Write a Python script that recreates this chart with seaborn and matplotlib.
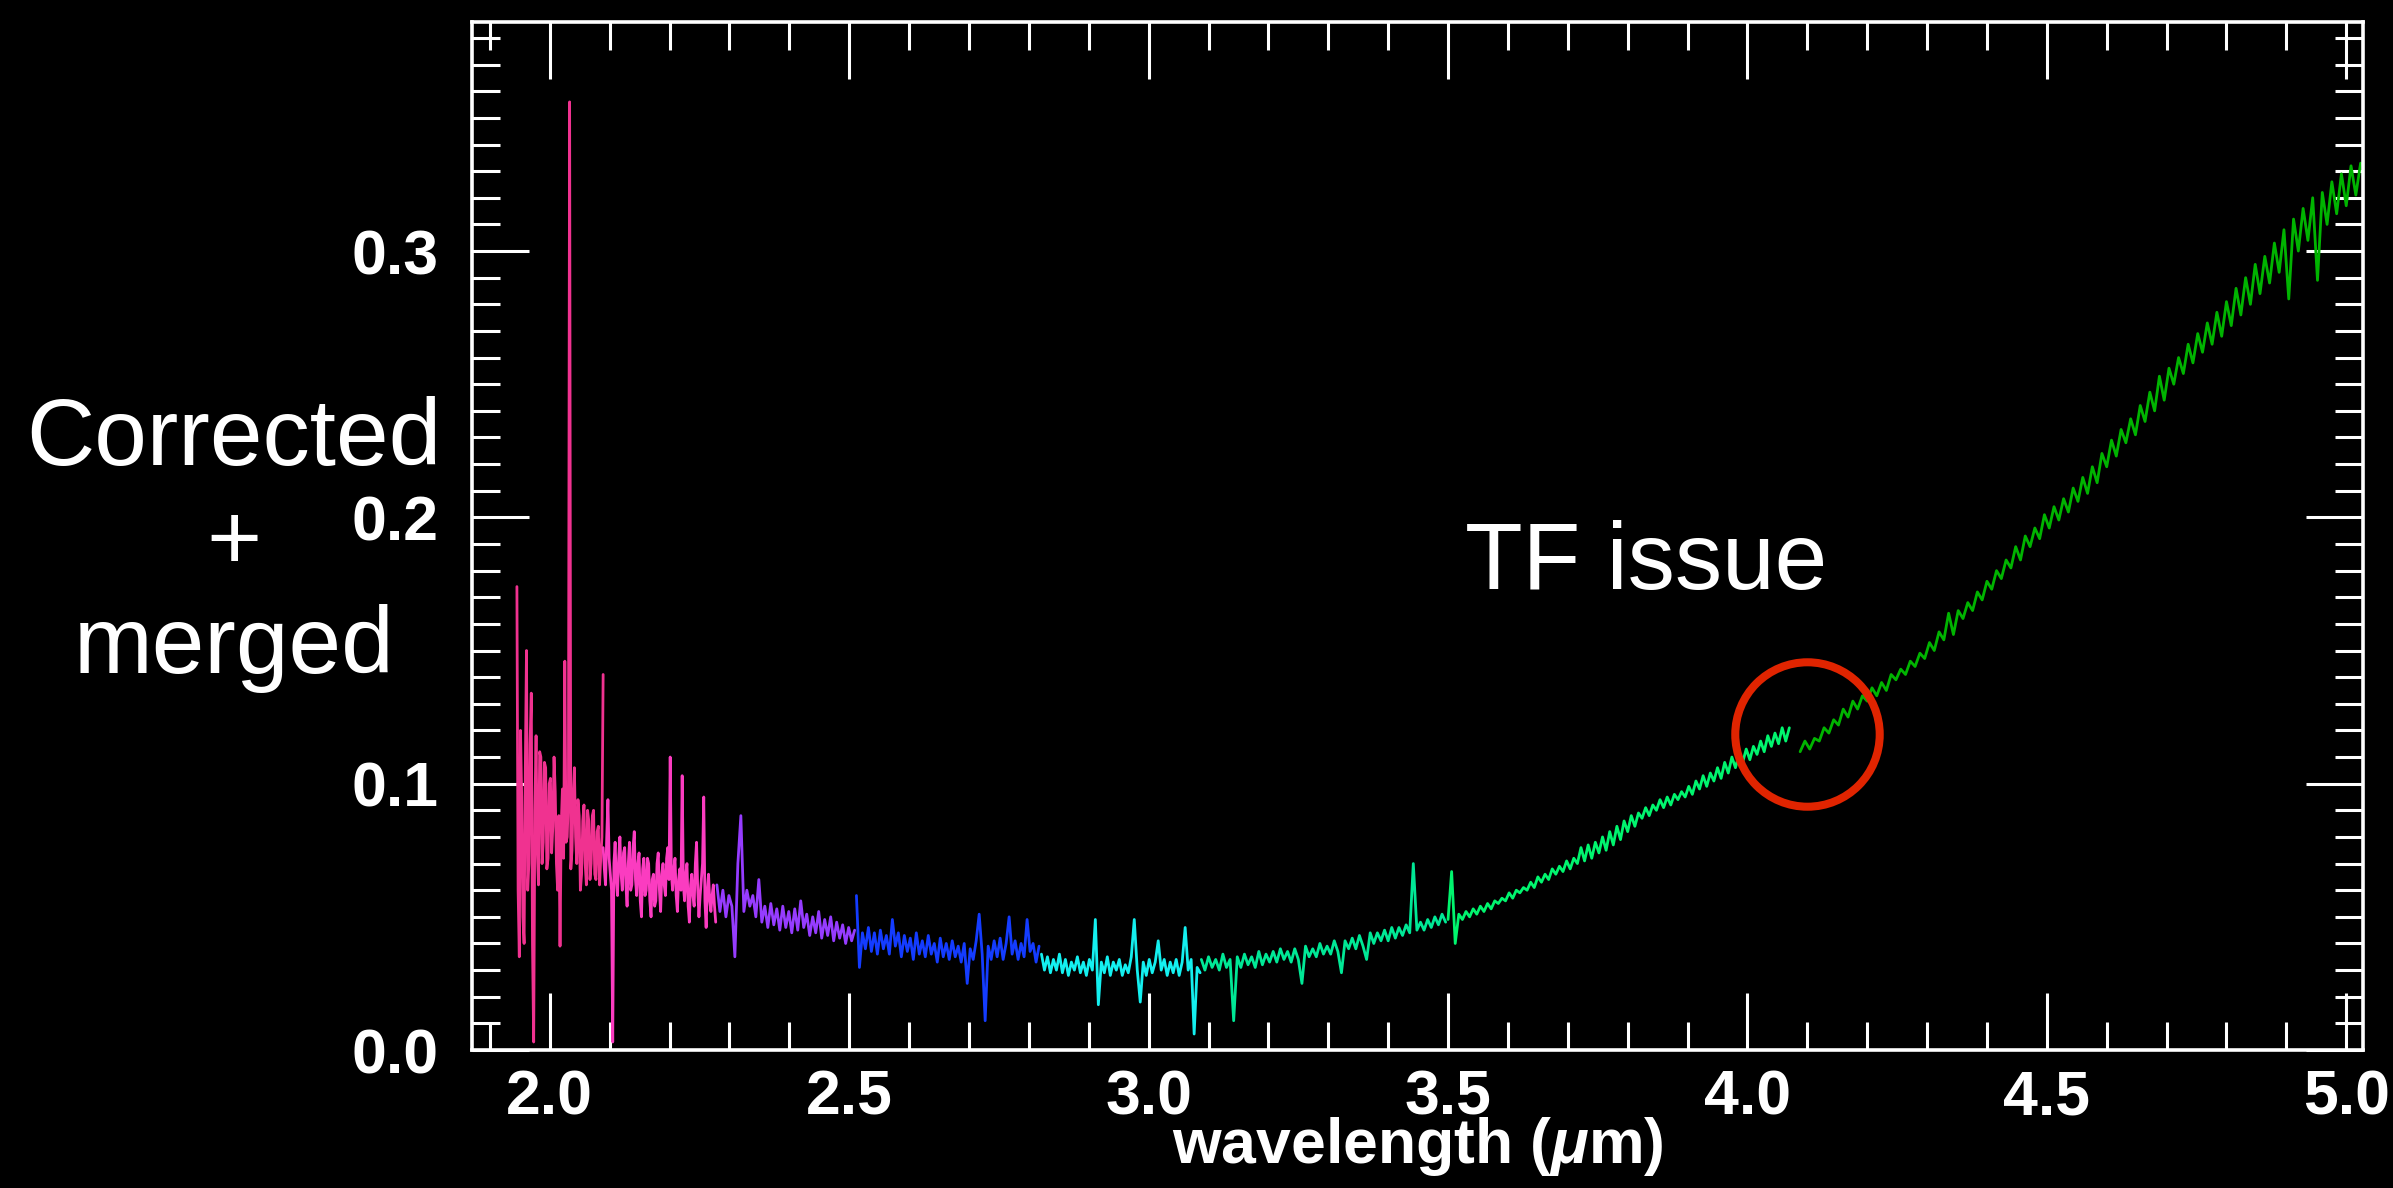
import numpy as np
import pandas as pd
import matplotlib
matplotlib.use("Agg")
import matplotlib.pyplot as plt
from matplotlib.ticker import MultipleLocator
import seaborn as sns

# ---------------- data (flux in units of 1e-3) ----------------
seg_names = ["s1", "s2", "s3", "s4", "s5", "s6", "s7", "s8"]
seg_colors = ["#f03290", "#fb3cc0", "#963cff", "#143cff",
              "#14f0f0", "#00e896", "#00f56e", "#00b400"]
seg_start = [1.945, 2.089, 2.279, 2.512, 2.821, 3.088, 3.500, 4.088]
seg_end = [2.089, 2.277, 2.509, 2.817, 3.086, 3.496, 4.070, 5.024]

flux_s1 = [174, 60, 35, 120, 95, 50, 40, 105, 150, 60, 70, 115, 134, 40, 3, 90,
           118, 75, 62, 112, 110, 70, 78, 108, 106, 68, 72, 100, 102, 74, 84, 110,
           97, 70, 60, 88, 39, 84, 98, 72, 146, 78, 80, 95, 356, 68, 75, 96,
           106, 80, 70, 94, 88, 60, 66, 86, 92, 70, 62, 90, 86, 64, 70, 88,
           90, 66, 64, 82, 84, 62, 72, 80, 141]
flux_s2 = [76, 68, 62, 80, 94, 72, 66, 60, 3, 70, 78, 64, 58, 72, 80, 66,
           60, 74, 76, 62, 54, 70, 78, 60, 62, 76, 82, 64, 58, 70, 74, 56,
           50, 68, 72, 58, 60, 72, 70, 56, 50, 64, 66, 54, 56, 70, 74, 60,
           52, 66, 70, 62, 58, 72, 76, 64, 110, 66, 60, 68, 72, 58, 52, 64,
           68, 60, 103, 62, 56, 66, 70, 54, 48, 62, 66, 58, 54, 70, 78, 60,
           50, 58, 64, 70, 95, 56, 46, 60, 66, 56, 52, 58, 62, 54, 48]
flux_s3 = [62, 52, 60, 50, 58, 54, 35, 70, 88, 52, 60, 54, 58, 50, 64, 48,
           54, 46, 55, 47, 53, 45, 54, 46, 52, 44, 53, 45, 56, 46, 51, 43,
           50, 44, 52, 42, 49, 43, 50, 41, 48, 42, 47, 40, 46, 41, 45]
flux_s4 = [58, 31, 44, 38, 46, 37, 44, 36, 45, 38, 43, 36, 49, 39, 44, 35,
           43, 37, 42, 34, 44, 36, 41, 35, 43, 36, 40, 33, 42, 35, 40, 34,
           41, 35, 39, 33, 40, 25, 38, 34, 41, 51, 36, 11, 39, 34, 41, 35,
           42, 34, 40, 50, 36, 41, 34, 40, 35, 49, 37, 40, 33, 39]
flux_s5 = [36, 30, 35, 29, 34, 30, 36, 29, 34, 28, 33, 30, 35, 29, 33, 28,
           34, 30, 49, 17, 33, 29, 35, 28, 33, 30, 34, 28, 32, 29, 35, 49,
           30, 18, 33, 28, 34, 29, 33, 41, 30, 34, 28, 33, 29, 34, 28, 33,
           46, 30, 34, 6, 31, 29]
flux_s6 = [34, 30, 35, 31, 34, 30, 36, 31, 34, 11, 35, 31, 36, 32, 35, 31,
           37, 32, 36, 33, 37, 33, 38, 34, 37, 33, 38, 34, 25, 39, 35, 38,
           35, 40, 36, 39, 36, 41, 37, 29, 41, 38, 42, 38, 43, 39, 34, 44,
           40, 44, 41, 45, 41, 46, 42, 46, 43, 47, 44, 70, 45, 48, 45, 49,
           46, 50, 47, 51, 48]
flux_s7 = [49, 67, 40, 51, 49, 52, 50, 53, 51, 54, 52, 55, 53, 56, 55, 57,
           56, 59, 57, 60, 59, 61, 60, 63, 61, 65, 63, 66, 64, 68, 66, 69,
           67, 71, 68, 72, 70, 76, 71, 77, 72, 78, 74, 80, 75, 82, 77, 84,
           79, 86, 82, 88, 84, 89, 87, 91, 88, 92, 90, 94, 91, 95, 92, 96,
           94, 97, 95, 99, 96, 101, 98, 103, 99, 104, 101, 106, 102, 108, 104, 110,
           106, 111, 108, 113, 109, 114, 111, 116, 112, 118, 114, 119, 115, 121, 116, 121]
flux_s8 = [112, 116, 113, 117, 116, 121, 119, 124, 122, 128, 125, 131, 128, 133, 131, 136,
           133, 138, 135, 141, 139, 143, 141, 146, 144, 149, 147, 153, 150, 157, 154, 164,
           156, 165, 162, 168, 165, 172, 169, 176, 173, 180, 177, 184, 181, 189, 184, 193,
           189, 196, 192, 201, 196, 204, 199, 207, 202, 211, 206, 215, 209, 219, 213, 224,
           219, 229, 223, 233, 228, 237, 231, 242, 236, 247, 240, 253, 244, 256, 250, 260,
           254, 265, 258, 269, 262, 273, 265, 277, 268, 281, 272, 286, 276, 290, 280, 295,
           284, 298, 288, 303, 292, 308, 282, 312, 300, 316, 304, 320, 289, 322, 310, 326,
           314, 329, 317, 332, 321, 333]
seg_flux = [flux_s1, flux_s2, flux_s3, flux_s4, flux_s5, flux_s6, flux_s7, flux_s8]

x_ticks_major = [2.0, 2.5, 3.0, 3.5, 4.0, 4.5, 5.0]
y_ticks_major = [0.0, 0.1, 0.2, 0.3]

circle_center = (4.099, 0.1187)
side_label_lines = ["Corrected", "+", "merged"]
note_text = "TF issue"

# ---------------- build table ----------------
frames = []
for name, a, b, fl in zip(seg_names, seg_start, seg_end, seg_flux):
    frames.append(pd.DataFrame({
        "wavelength": np.linspace(a, b, len(fl)),
        "flux": np.asarray(fl, dtype=float) / 1000.0,
        "segment": name,
    }))
df = pd.concat(frames, ignore_index=True)
palette = dict(zip(seg_names, seg_colors))

# ---------------- style ----------------
sns.set_theme(style="dark")
plt.rcParams.update({
    "figure.facecolor": "black",
    "axes.facecolor": "black",
    "savefig.facecolor": "black",
    "axes.edgecolor": "white",
    "text.color": "white",
    "xtick.color": "white",
    "ytick.color": "white",
    "axes.grid": False,
    "mathtext.fontset": "custom",
    "mathtext.it": "Liberation Sans:italic:bold",
    "mathtext.rm": "Liberation Sans:bold",
    "mathtext.bf": "Liberation Sans:bold",
})
plt.rcParams["font.family"] = ["Liberation Sans", "DejaVu Sans"]

W, H, DPI = 2393, 1188, 100
fig = plt.figure(figsize=(W / DPI, H / DPI), dpi=DPI)
ax = fig.add_axes([472 / W, 1 - 1050 / H, (2363 - 472) / W, (1050 - 22) / H])

sns.lineplot(data=df, x="wavelength", y="flux", hue="segment", palette=palette,
             estimator=None, sort=False, legend=False, linewidth=2.0, ax=ax)

# annotation circle
ax.plot([circle_center[0]], [circle_center[1]], marker="o", markersize=104,
        markerfacecolor="none", markeredgecolor="#e02400", markeredgewidth=5.8,
        linestyle="none", zorder=5)

ax.set_xlim(1.87, 5.028)
ax.set_ylim(0.0, 0.386)
ax.set_xticks(x_ticks_major)
ax.set_yticks(y_ticks_major)
ax.set_xticklabels([f"{v:.1f}" for v in x_ticks_major])
ax.set_yticklabels([f"{v:.1f}" for v in y_ticks_major])
ax.xaxis.set_minor_locator(MultipleLocator(0.1))
ax.yaxis.set_minor_locator(MultipleLocator(0.01))

for s in ax.spines.values():
    s.set_color("white")
    s.set_linewidth(2.6)

ax.tick_params(which="both", direction="in", top=True, right=True,
               bottom=True, left=True, color="white", width=2.2)
ax.tick_params(which="major", length=41)
ax.tick_params(which="minor", length=20)
ax.tick_params(axis="x", which="major", pad=13, labelsize=45)
ax.tick_params(axis="y", which="major", pad=24, labelsize=45)
for lab in ax.get_xticklabels() + ax.get_yticklabels():
    lab.set_fontweight("bold")
    lab.set_color("white")

ax.set_xlabel(r"wavelength ($\mathit{\mu}$m)", fontsize=45, fontweight="bold",
              color="white")
ax.xaxis.set_label_coords(0.5, -0.0628)
ax.set_ylabel("")

# side label (three lines, centered)
base_y = [465, 569, 673]
for txt, by in zip(side_label_lines, base_y):
    fig.text(234 / W, 1 - by / H, txt, fontsize=68, color="white",
             ha="center", va="baseline")

fig.text(1646 / W, 1 - 589 / H, note_text, fontsize=68, color="white",
         ha="center", va="baseline")

fig.savefig("out.png", dpi=DPI, facecolor="black")
